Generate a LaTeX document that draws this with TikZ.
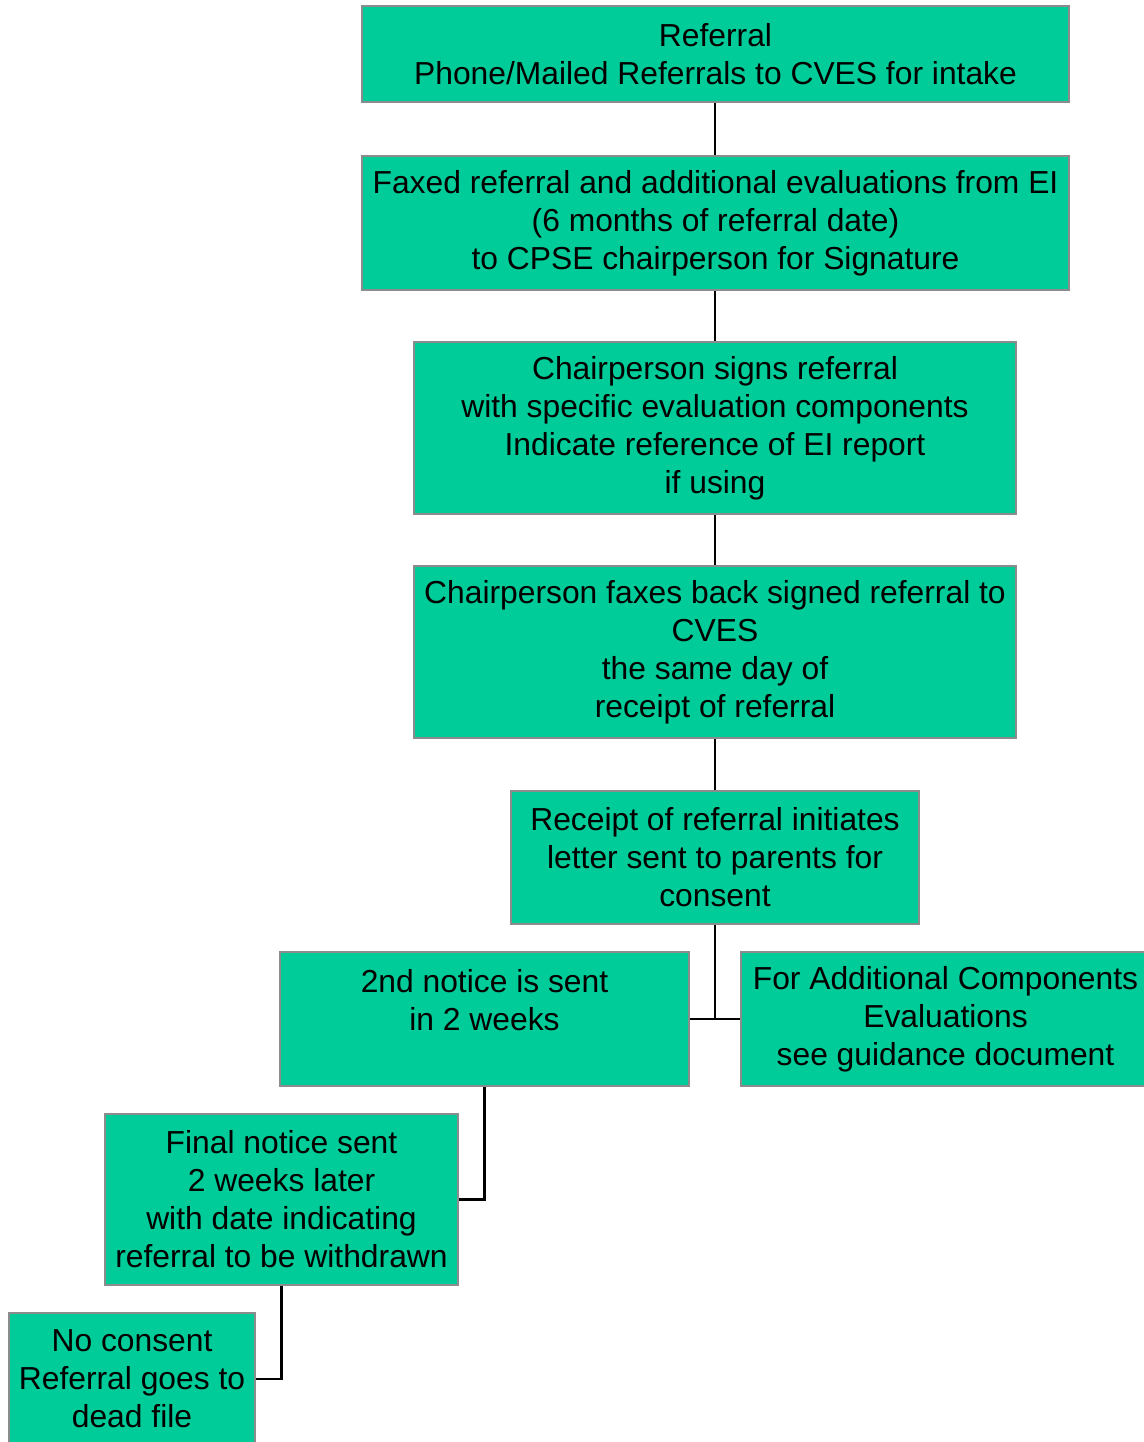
\documentclass[tikz,border=0pt]{standalone}
\usepackage{fontspec}
\setmainfont{Liberation Sans}
\usepackage{tikz}
\definecolor{boxgreen}{HTML}{00CC99}
\definecolor{boxedge}{HTML}{8C8C8C}
\tikzstyle{stepbox} = [rectangle, draw=boxedge, line width=2pt, fill=boxgreen, align=center, inner sep=2pt, font=\fontsize{31.8}{38}\selectfont]
\tikzstyle{conn} = [line width=2.5pt, black]

\begin{document}
\begin{tikzpicture}[x=1pt,y=-1pt]
\useasboundingbox (0,0) rectangle (1143,1442);
\node[stepbox,minimum width=707,minimum height=96] (ref) at (715.5,54) {Referral\\Phone/Mailed Referrals to CVES for intake};
\node[stepbox,minimum width=707,minimum height=134] (fax) at (715.5,223) {Faxed referral and additional evaluations from EI\\(6 months of referral date)\\to CPSE chairperson for Signature};
\node[stepbox,minimum width=602,minimum height=172] (sign) at (715,428) {Chairperson signs referral\\with specific evaluation components\\Indicate reference of EI report\\if using};
\node[stepbox,minimum width=602,minimum height=172] (back) at (715,652) {Chairperson faxes back signed referral to\\CVES\\the same day of\\receipt of referral};
\node[stepbox,minimum width=408,minimum height=133] (recv) at (715,857.5) {Receipt of referral initiates\\letter sent to parents for\\consent};
\node[stepbox,minimum width=409,minimum height=134] (second) at (484.5,1019) {2nd notice is sent\\in 2 weeks\\\mbox{}};
\node[stepbox,minimum width=409,minimum height=134] (extra) at (945.5,1019) {For Additional Components\\Evaluations\\see guidance document};
\node[stepbox,minimum width=353,minimum height=171] (final) at (281.5,1199.5) {Final notice sent\\2 weeks later\\with date indicating\\referral to be withdrawn};
\node[stepbox,minimum width=246,minimum height=132] (dead) at (132,1379) {No consent\\Referral goes to\\dead file};

% links
\draw[conn] (ref.south -| sign) -- (fax.north -| sign);
\draw[conn] (fax.south -| sign) -- (sign);
\draw[conn] (sign) -- (back);
\draw[conn] (back) -- (recv);
\draw[conn] (recv.south) |- (second.east);
\draw[conn] (recv.south) |- (extra.west);
\draw[conn] (second.south) |- (final.east);
\draw[conn] (final.south) |- (dead.east);
\end{tikzpicture}
\end{document}
